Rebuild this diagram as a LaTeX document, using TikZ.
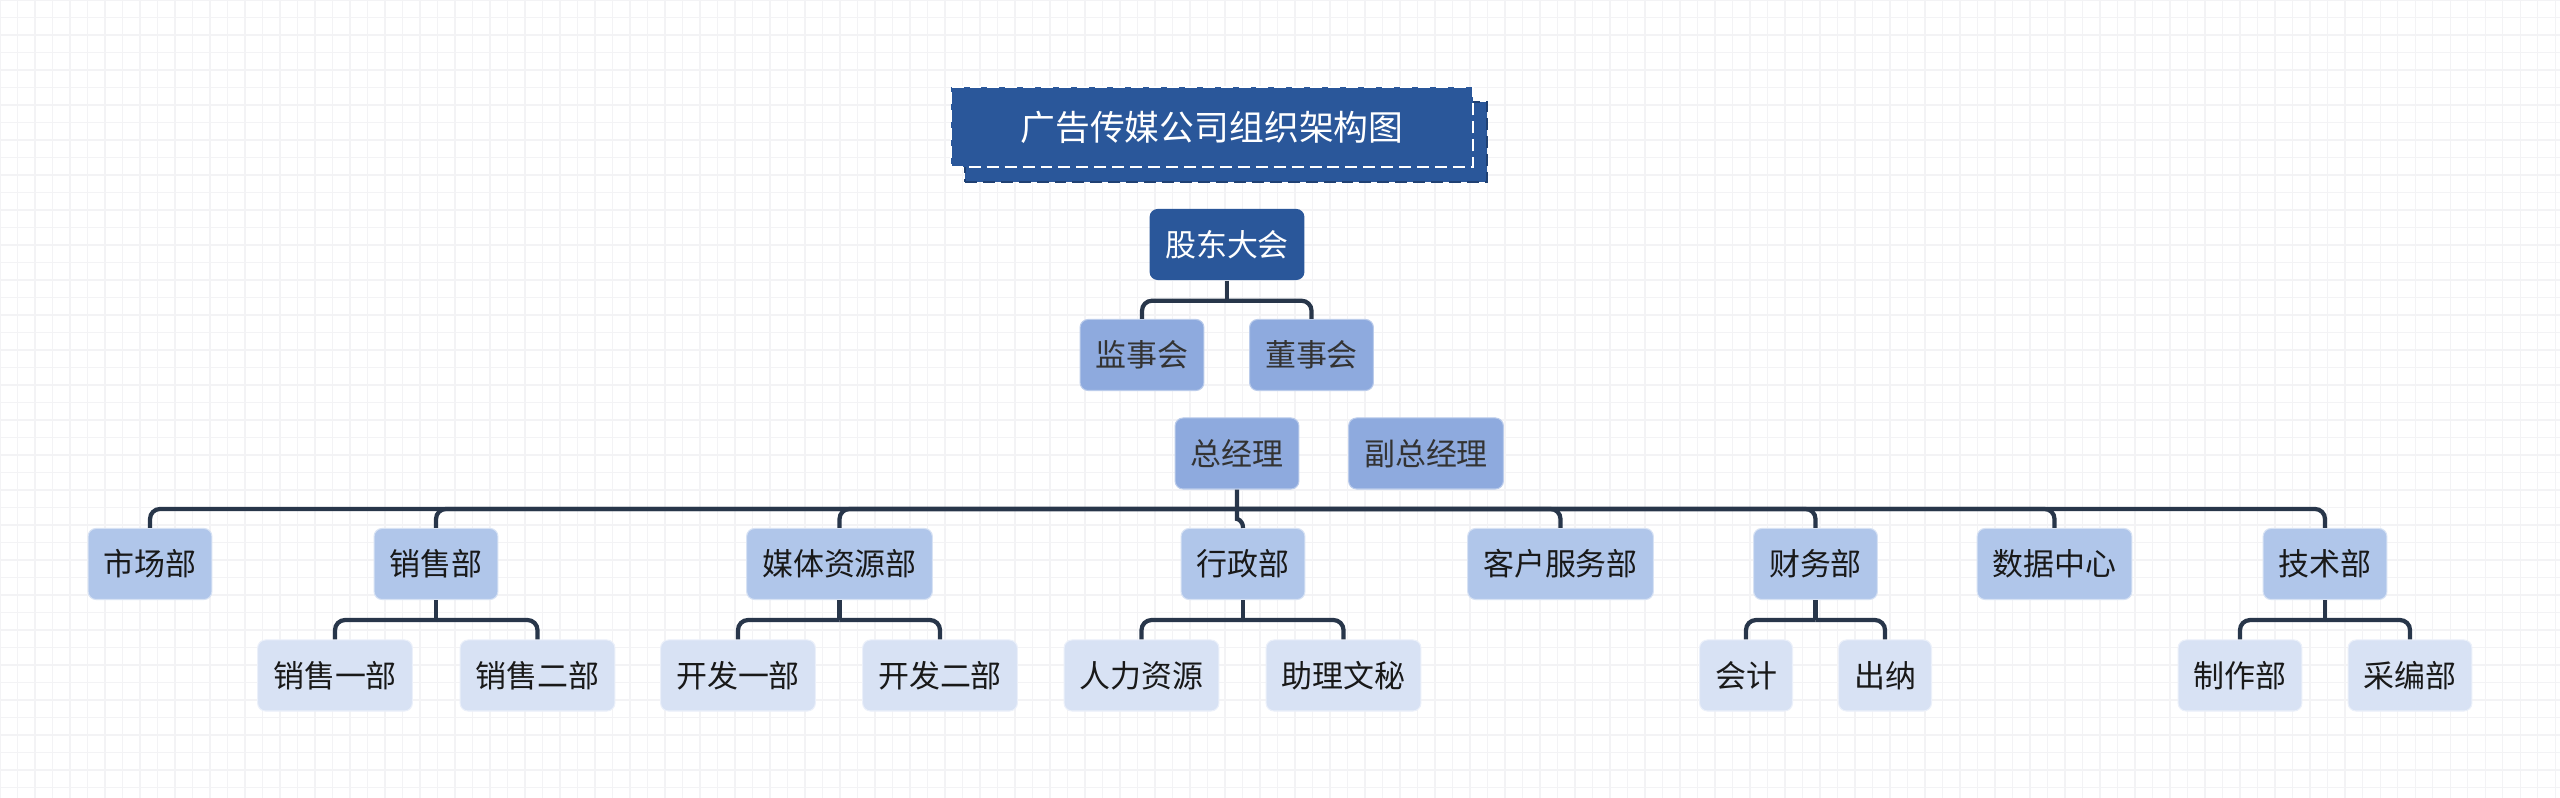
\documentclass[tikz,border=0pt]{standalone}
\usepackage{fontspec}
\setmainfont{Noto Sans CJK SC}
\usetikzlibrary{shadows}
\definecolor{ttlblue}{RGB}{42,87,154}
\definecolor{lvla}{RGB}{142,170,222}
\definecolor{lvlb}{RGB}{176,198,234}
\definecolor{lvlc}{RGB}{216,226,244}
\definecolor{linkc}{RGB}{40,54,74}
\definecolor{gridc}{RGB}{243,243,245}
\tikzset{
  box/.style={rounded corners=0.08cm, inner xsep=0.155cm, inner ysep=0pt, minimum height=0.71cm, font=\fontsize{8.8pt}{10pt}\selectfont},
  topbox/.style={box, fill=ttlblue, text=white},
  boxa/.style={box, fill=lvla, draw=lvla!60!white, line width=0.3pt, text=black!80},
  boxb/.style={box, fill=lvlb, draw=lvlb!50!white, line width=0.3pt, text=black!90},
  boxc/.style={box, fill=lvlc, draw=lvlc!50!white, line width=0.3pt, text=black!90},
  link/.style={draw=linkc, line width=1.2pt, rounded corners=0.1cm},
  gridline/.style={draw=gridc, line width=0.3pt}
}

\begin{document}
\begin{tikzpicture}[x=0.01cm, y=-0.01cm]
  \fill[white] (0,0) rectangle (2560,798);
  \useasboundingbox (0,0) rectangle (2560,798);
  % canvas grid
  \foreach \i in {0,...,146} \draw[gridline] (\i*17.5,0) -- (\i*17.5,798);
  \foreach \j in {0,...,45} \draw[gridline] (0,\j*17.5) -- (2560,\j*17.5);

  \node[fill=ttlblue, draw=white, dash pattern=on 3.4pt off 1.7pt, line width=0.6pt, minimum width=5.22cm, minimum height=0.8cm, text=white, font=\fontsize{9.9pt}{12pt}\selectfont, copy shadow={shadow xshift=0.14cm, shadow yshift=-0.15cm, fill=ttlblue, draw=ttlblue!75!black, dash pattern=on 3.4pt off 1.7pt, line width=0.6pt}] (ttl) at (1212,127) {广告传媒公司组织架构图};

  \node[topbox] (gd) at (1227,244.5) {股东大会};
  \node[boxa] (jsh) at (1142,355) {监事会};
  \node[boxa] (dsh) at (1311.5,355) {董事会};
  \node[boxa] (zjl) at (1237,453.5) {总经理};
  \node[boxa] (fzjl) at (1426,453.5) {副总经理};

  % departments
  \node[boxb] (scb) at (150,564) {市场部};
  \node[boxb] (xsb) at (436,564) {销售部};
  \node[boxb] (mtzy) at (839.5,564) {媒体资源部};
  \node[boxb] (xzb) at (1243,564) {行政部};
  \node[boxb] (khfw) at (1560.5,564) {客户服务部};
  \node[boxb] (cwb) at (1815.5,564) {财务部};
  \node[boxb] (sjzx) at (2054.5,564) {数据中心};
  \node[boxb] (jsb) at (2325,564) {技术部};

  % sub units
  \node[boxc] (xs1) at (335,675.5) {销售一部};
  \node[boxc] (xs2) at (537.5,675.5) {销售二部};
  \node[boxc] (kfa) at (738,675.5) {开发一部};
  \node[boxc] (kfb) at (940,675.5) {开发二部};
  \node[boxc] (rl) at (1141.5,675.5) {人力资源};
  \node[boxc] (zl) at (1343.5,675.5) {助理文秘};
  \node[boxc] (kj) at (1746,675.5) {会计};
  \node[boxc] (cn) at (1885,675.5) {出纳};
  \node[boxc] (zz) at (2240,675.5) {制作部};
  \node[boxc] (cb) at (2410,675.5) {采编部};

  \coordinate (bus) at (0,509);
  \draw[link] (zjl.south) -- (bus -| zjl) .. controls +(0,10) and +(0,-8) .. (xzb.north);
  \foreach \c in {scb,xsb,mtzy,khfw,cwb,sjzx,jsb}
    \draw[link] (bus -| zjl) -- (bus -| \c) -- (\c.north);

  \foreach \p/\a/\b in {gd/jsh/dsh, xsb/xs1/xs2, mtzy/kfa/kfb, xzb/rl/zl, cwb/kj/cn, jsb/zz/cb} {
    \path (\p.south) ++(0,20) coordinate (\p-j);
    \draw[link] (\p.south) -- (\p-j);
    \draw[link] (\p-j) -| (\a.north);
    \draw[link] (\p-j) -| (\b.north);
  }
\end{tikzpicture}
\end{document}
